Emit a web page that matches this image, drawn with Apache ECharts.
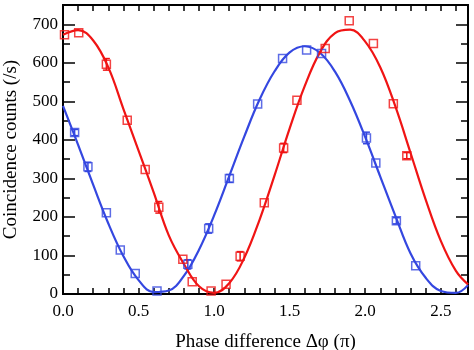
<!DOCTYPE html>
<html>
<head>
<meta charset="utf-8">
<script src="https://cdn.jsdelivr.net/npm/echarts@6/dist/echarts.min.js"></script>
<style>
  html, body { margin: 0; padding: 0; background: #fff; }
  #chart { width: 474px; height: 350px; }
</style>
</head>
<body>
<div id="chart"></div>
<script>
// measured points (phase in units of pi, counts per second)
const redX = [0.01, 0.104, 0.287, 0.425, 0.544, 0.634, 0.793, 0.855, 0.980, 1.079, 1.172, 1.332, 1.460, 1.548, 1.735, 1.894, 2.054, 2.186, 2.275];
const redY = [673, 678, 596, 451, 323, 225, 90, 32, 8, 25, 98, 237, 379, 503, 637, 709, 650, 494, 359];
const redErr = [0, 0, 15, 0, 0, 15, 0, 0, 0, 0, 12, 0, 12, 0, 0, 0, 0, 0, 8];

const blueX = [0.077, 0.165, 0.287, 0.379, 0.478, 0.622, 0.826, 0.964, 1.101, 1.288, 1.453, 1.612, 1.711, 2.008, 2.070, 2.206, 2.334];
const blueY = [419, 330, 211, 114, 53, 8, 77, 170, 300, 493, 611, 633, 624, 405, 340, 190, 73];
const blueErr = [8, 12, 0, 0, 0, 0, 12, 12, 10, 0, 0, 0, 0, 15, 0, 8, 0];

// fitted curves
const fitX = [0, 0.1, 0.2, 0.3, 0.4, 0.5, 0.6, 0.7, 0.8, 0.9, 1.0, 1.1, 1.2, 1.3, 1.4, 1.5, 1.6, 1.7, 1.8, 1.9, 2.0, 2.1, 2.2, 2.3, 2.4, 2.5, 2.6, 2.68];
const redFit = [673, 685, 658, 588, 480, 372, 264, 152, 78, 20, 3, 28, 94, 192, 308, 430, 540, 627, 677, 686, 655, 588, 486, 366, 245, 138, 60, 25];
const blueFit = [488, 387, 283, 183, 98, 36, 5, 9, 47, 115, 204, 306, 409, 504, 578, 627, 643, 626, 577, 501, 407, 304, 202, 105, 42, 8, 3, 23];

const RED = '#f01414';
const BLUE = '#3447e0';
const FONT = 'Liberation Serif';
const X_MAX = 2.68;
const Y_MAX = 750;

function xAxisCfg(pos, labels) {
  return {
    type: 'value',
    position: pos,
    min: 0,
    max: X_MAX,
    interval: 0.1,
    axisLine: { show: true, onZero: false, lineStyle: { color: '#000', width: 2 } },
    axisTick: { show: true, inside: true, length: 6, lineStyle: { color: '#000', width: 1.5 } },
    axisLabel: {
      show: labels,
      margin: 9,
      color: '#000',
      fontFamily: FONT,
      fontSize: 17,
      formatter: function (v) {
        const k = v / 0.5;
        return Math.abs(k - Math.round(k)) < 1e-6 ? v.toFixed(1) : '';
      },
    },
    splitLine: { show: false },
  };
}

function yAxisCfg(pos, interval, tickLen, labels) {
  return {
    type: 'value',
    position: pos,
    min: 0,
    max: Y_MAX,
    interval: interval,
    axisLine: { show: true, onZero: false, lineStyle: { color: '#000', width: 2 } },
    axisTick: { show: true, inside: true, length: tickLen, lineStyle: { color: '#000', width: 1.5 } },
    axisLabel: {
      show: labels,
      margin: 5,
      color: '#000',
      fontFamily: FONT,
      fontSize: 17,
      showMaxLabel: false,
    },
    splitLine: { show: false },
  };
}

function errorBars(color) {
  return function (params, api) {
    const x = api.value(0), y = api.value(1), e = api.value(2);
    if (!e) return null;
    const hi = api.coord([x, y + e]);
    const lo = api.coord([x, y - e]);
    const w = 3.5;
    const st = () => ({ stroke: color, lineWidth: 1.5 });
    return {
      type: 'group',
      children: [
        { type: 'line', shape: { x1: hi[0], y1: hi[1], x2: lo[0], y2: lo[1] }, style: st() },
        { type: 'line', shape: { x1: hi[0] - w, y1: hi[1], x2: hi[0] + w, y2: hi[1] }, style: st() },
        { type: 'line', shape: { x1: lo[0] - w, y1: lo[1], x2: lo[0] + w, y2: lo[1] }, style: st() },
      ],
    };
  };
}

const xBottom = xAxisCfg('bottom', true);
xBottom.name = 'Phase difference \u0394\u03c6 (\u03c0)';
xBottom.nameLocation = 'middle';
xBottom.nameGap = 39;
xBottom.nameTextStyle = { fontFamily: FONT, fontSize: 19, color: '#000' };

const yLeft = yAxisCfg('left', 100, 12, true);
yLeft.name = 'Coincidence counts (/s)';
yLeft.nameLocation = 'middle';
yLeft.nameGap = 42;
yLeft.nameTextStyle = { fontFamily: FONT, fontSize: 19, color: '#000' };

const chart = echarts.init(document.getElementById('chart'));
const option = {
  animation: false,
  backgroundColor: '#fff',
  grid: { left: 63, right: 6, top: 5, bottom: 56, containLabel: false, outerBoundsMode: 'none' },
  xAxis: [xBottom, xAxisCfg('top', false)],
  yAxis: [
    yLeft,
    yAxisCfg('left', 50, 7, false),
    yAxisCfg('right', 100, 12, false),
    yAxisCfg('right', 50, 7, false),
  ],
  series: [
    {
      type: 'line', name: 'blue fit', smooth: 0.4, showSymbol: false, clip: true,
      lineStyle: { color: BLUE, width: 2.2 },
      data: fitX.map((x, i) => [x, blueFit[i]]),
    },
    {
      type: 'line', name: 'red fit', smooth: 0.4, showSymbol: false, clip: true,
      lineStyle: { color: RED, width: 2.2 },
      data: fitX.map((x, i) => [x, redFit[i]]),
    },
    {
      type: 'custom', renderItem: errorBars(BLUE), encode: { x: 0, y: 1 },
      data: blueX.map((x, i) => [x, blueY[i], blueErr[i]]), z: 3,
    },
    {
      type: 'custom', renderItem: errorBars(RED), encode: { x: 0, y: 1 },
      data: redX.map((x, i) => [x, redY[i], redErr[i]]), z: 3,
    },
    {
      type: 'scatter', symbol: 'rect', symbolSize: 8, z: 4,
      itemStyle: { color: 'rgba(255,255,255,0)', borderColor: BLUE, borderWidth: 1.5 },
      data: blueX.map((x, i) => [x, blueY[i]]),
    },
    {
      type: 'scatter', symbol: 'rect', symbolSize: 8, z: 4,
      itemStyle: { color: 'rgba(255,255,255,0)', borderColor: RED, borderWidth: 1.5 },
      data: redX.map((x, i) => [x, redY[i]]),
    },
  ],
};
chart.setOption(option);
</script>
</body>
</html>
